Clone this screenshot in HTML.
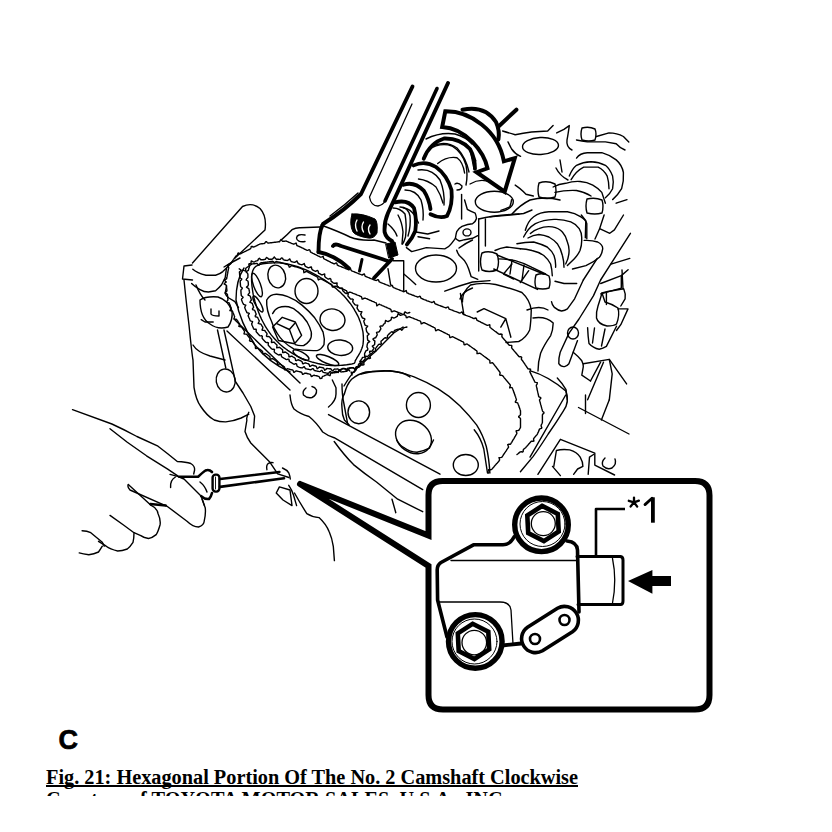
<!DOCTYPE html>
<html><head><meta charset="utf-8">
<style>
html,body{margin:0;padding:0;background:#fff;}
body{width:832px;height:832px;position:relative;overflow:hidden;}
svg{position:absolute;left:0;top:0;}
.cap{position:absolute;left:46px;top:765.5px;font-family:"Liberation Serif",serif;font-weight:bold;font-size:20.3px;line-height:22.8px;white-space:nowrap;color:#000;}
.cap span{text-decoration:underline;text-decoration-skip-ink:none;text-decoration-thickness:1.5px;text-underline-offset:1px;}
.clip{position:absolute;left:0;top:0;width:832px;height:796px;overflow:hidden;}
.c{position:absolute;left:58.5px;top:725px;font-family:"Liberation Sans",sans-serif;font-weight:bold;font-size:27px;color:#000;-webkit-text-stroke:0.7px #000;}
</style></head><body>
<div class="clip">
<div class="cap"><span>Fig. 21: Hexagonal Portion Of The No. 2 Camshaft Clockwise</span><br>Courtesy of TOYOTA MOTOR SALES, U.S.A., INC.</div>
</div>
<div class="c">C</div>
<svg width="832" height="832" viewBox="0 0 832 832" fill="none" stroke="#000" stroke-linejoin="round" stroke-linecap="round">
<g id="eng">
<path d="M412.5 86.5 L361 194 Q345 210 323 224 Q318.5 232 318.5 252" stroke-width="3.9"/>
<path d="M437 88.5 L385 201" stroke-width="3.6"/>
<path d="M448 83 L388 213 Q384 222 384.6 232 Q386 238 392 241 L394 254" stroke-width="3.9"/>
<path d="M318.5 252 Q335 255 349 268.5" stroke-width="3.9"/>
<path d="M333 246 Q335 243 341 246 L382 259 L389 261.5" stroke-width="3.9"/>
<path d="M362 259.5 L359.5 271" stroke-width="3"/>
<path d="M392 259 L374 278" stroke-width="3.9"/>
<path d="M412 104 L369.5 197 Q371 206 378 206 Q383 205 385 201" stroke-width="1.3"/>
<path d="M352 214 Q362 213 375 219 Q378 222 377 233 Q374 239 368 238 Q356 236 353 232 Q349 224 352 214 Z" stroke-width="1" fill="#000"/>
<path d="M357 220 Q354 225 357 231 M363.5 222 Q360.5 227 363.5 232 M370 225 Q367 229 370 234" stroke="#fff" stroke-width="1.4"/>
<path d="M386 244 L395 242 L398 255 L389 258 Z" stroke-width="1" fill="#000"/>
<path d="M321 225 Q340 232 350 237 Q360 241 374 240 L386 243" stroke-width="1.4"/>
<path d="M358 193 Q345 205 330 216" stroke-width="1.4"/>
<path d="M445.3 111.3 C470 111 498 130 503.9 161.3 L514.8 158.1 L504.7 191.7 L476.6 172.2 L487.5 168.3 C484 152 466 128 442.2 126.9 Z" stroke-width="4" fill="#fff" stroke-linejoin="miter"/>
<path d="M462.5 109.7 Q485 105 496 122 Q500 131 498.4 139.4" stroke-width="4"/>
<path d="M498 127 L516.4 109.7" stroke-width="4"/>
<path d="M423.7 158.7 Q430 143 444 138.5 Q460 138 470 149 Q475 158 475 168.8" stroke-width="3.8"/>
<path d="M413.6 165.4 Q425 160 436 167 Q447 175 451.5 190 Q453 205 447 216 Q440 219 430.5 214.2" stroke-width="3.8"/>
<path d="M403.5 184.8 Q414 181 423.7 190.6 Q429 199 430.5 209.1" stroke-width="3.8"/>
<path d="M395 202.4 Q408 199 414 208 Q417 219 415.3 231 Q412 239 406.9 244.5" stroke-width="3.8"/>
<path d="M428 150 Q440 142 452 146 Q462 152 466 165 Q468 175 466 185" stroke-width="1.4"/>
<path d="M432 146 Q446 140 457 148 Q466 158 469 172" stroke-width="1.4"/>
<path d="M418 170 Q432 168 440 180 Q445 192 444 205" stroke-width="1.4"/>
<path d="M405 190 Q416 190 421 200 Q424 210 423 220" stroke-width="1.4"/>
<path d="M400 207 Q408 207 410 216 Q411 226 408 236" stroke-width="1.4"/>
<path d="M471 154 L476 160 L474 169 Z" stroke-width="1" fill="#000"/>
<path d="M437.7 163.5 Q447 156 457 157.7 Q463 162 464.6 173" stroke-width="1.4"/>
<path d="M418.5 179 Q428 180 436 187 Q441 195 443 203" stroke-width="1.4"/>
<path d="M403 207.7 Q411 209 415 216 L418.5 223" stroke-width="1.4"/>
<path d="M426 139 Q440 132 455 134 Q466 137 472 144" stroke-width="1.4"/>
<path d="M398 215 Q402 222 403 232 L402 244" stroke-width="1.4"/>
<path d="M192.5 263 L242.5 206.5 Q252 202 260 208.5 Q267 216 265 230 L235 258" stroke-width="1.4"/>
<path d="M192 265 L184 266 L182.5 279 L192.5 280" stroke-width="1.4"/>
<path d="M192.8 269.2 Q197 273 206 275.2 L215.6 275.2 Q220 274 222.8 271.6 L226.5 268 L232 262" stroke-width="1.4"/>
<path d="M191.6 283.6 Q195 287 200 289.6 Q204 292 208.4 292 L215.6 290.8 Q219 288 221.6 284.8 L225.2 277.6 L226.5 268" stroke-width="1.4"/>
<path d="M226.5 286 L225.2 293.2 Q226 296 228.9 298 L234.9 301.7 L238.5 307.7" stroke-width="1.4"/>
<path d="M201.2 319.7 L205 322 L213.2 322" stroke-width="1.4"/>
<path d="M184 280 Q186 300 189 325 Q192 355 193 360 L194 387.3 Q196 400 200.8 406.5 Q207 416 214.2 420 Q220 422 225.8 421.9 Q234 421 241.2 418 L248.8 414.2" stroke-width="1.4"/>
<path d="M193 345 Q197 352 210 356 L225 360" stroke-width="1.4"/>
<path d="M200 300 Q200 318 210 324 Q218 330 228 327 Q233 320 232 311 Q228 300 218 297 Q206 296 200 300" stroke-width="1.4"/>
<path d="M211 309 L211 314 Q212 316 219 316 L219 311" stroke-width="1.4"/>
<path d="M217.5 330 L225.8 368" stroke-width="1.4"/>
<path d="M224 330 L235.4 381.5 L243 393 L250.8 406.5 L254.6 416 L253.7 427.7" stroke-width="1.4"/>
<path d="M227 331 L290 390" stroke-width="1.4"/>
<path d="M235 320 L300 383" stroke-width="1.4"/>
<path d="M244 268 Q236 280 236 300 Q240 322 255 345 Q268 362 290 372" stroke-width="1.4"/>
<path d="M196 285 Q200 295 205 300" stroke-width="1.4"/>
<path d="M224 267 Q232 262 240 258" stroke-width="1.4"/>
<path d="M281.6 239.6 Q287 235 292 229.7 Q296 227.5 300 227.7 L320 227" stroke-width="1.4"/>
<path d="M305 235 Q297 233.5 296.5 238 Q297 242.5 305 241.5" stroke-width="1.4"/>
<ellipse cx="225.7" cy="380.5" rx="9.5" ry="11.5" transform="rotate(-10 225.7 380.5)" stroke-width="1.4"/>
<path d="M271.8 322 Q266 310 266.7 300 Q270 294 276.8 294.2 Q283 294.5 287.8 296.7 Q296 300 302 305.1 Q309 311 314.7 317.8 Q320 325 323.1 332.1 Q325 339 324 344.7 Q321 350 317.2 350.6 Q305 351 293.7 348.9 Q283 343 277 333 Q273 327 271.8 322 Z" stroke-width="1.4"/>
<path d="M272.6 313.6 Q275 309 278.5 307.7 Q283 306 288.6 306.8 Q294 308 297.9 311.9 Q303 316 307.1 322 Q310 327 311.3 332.1 Q312 337 309.6 340.5 Q307 344 303.7 345.5 Q299 346 295.3 344.7" stroke-width="1.4"/>
<polygon points="282.3,317.3 295.3,322 301.6,335.4 294.5,343.8 278.5,340.5 272.6,327" stroke-width="1.4"/>
<path d="M276.8 323.7 L289.4 329.5 L295.3 322.8 M289.4 329.5 L294.5 343" stroke-width="1.4"/>
<ellipse cx="276.7" cy="276.5" rx="8.7" ry="11.5" transform="rotate(-15 276.7 276.5)" stroke-width="1.4"/>
<ellipse cx="306.5" cy="291" rx="11.5" ry="12.5" transform="rotate(0 306.5 291)" stroke-width="1.4"/>
<ellipse cx="332.5" cy="319.7" rx="12.5" ry="10.7" transform="rotate(10 332.5 319.7)" stroke-width="1.4"/>
<ellipse cx="340.2" cy="347.7" rx="12.5" ry="7.7" transform="rotate(5 340.2 347.7)" stroke-width="1.4"/>
<ellipse cx="257" cy="285" rx="3.5" ry="12.5" transform="rotate(-20 257 285)" stroke-width="1.4"/>
<ellipse cx="258" cy="304" rx="2.5" ry="9" transform="rotate(-30 258 304)" stroke-width="1.4"/>
<ellipse cx="327.6" cy="360" rx="12" ry="3.5" transform="rotate(22 327.6 360)" stroke-width="1.4"/>
<ellipse cx="301" cy="355" rx="9" ry="3" transform="rotate(30 301 355)" stroke-width="1.4"/>
<path d="M226.0 282.0 L225.2 281.0 L224.4 280.0 L225.5 279.4 L226.6 278.8 L226.8 278.0 L226.9 277.2 L227.1 276.4 L227.2 275.6 L227.3 274.8 L227.5 274.0 L227.7 273.2 L227.8 272.4 L227.9 271.6 L228.1 270.8 L228.2 270.0 L228.4 269.2 L228.6 268.4 L228.7 267.6 L228.3 266.7 L227.7 265.1 L228.3 264.5 L229.6 264.5 L230.4 264.0 L230.9 263.3 L231.3 262.7 L231.8 262.0 L232.3 261.3 L232.7 260.7 L233.2 260.0 L233.7 259.3 L234.1 258.7 L234.6 258.0 L235.1 257.3 L235.5 256.7 L236.0 256.0 L236.7 255.6 L237.4 255.1 L237.7 253.9 L238.1 252.9 L239.3 253.5 L240.4 253.8 L241.1 253.5 L241.8 253.1 L242.5 252.7 L243.3 252.4 L244.0 252.0 L244.7 251.6 L245.5 251.3 L246.2 250.9 L246.9 250.5 L247.6 250.2 L248.4 249.8 L249.1 249.5 L249.8 249.1 L250.5 248.7 L251.0 247.7 L251.2 246.5 L252.2 246.5 L253.3 247.0 L254.2 246.9 L254.9 246.5 L255.6 246.2 L256.4 245.8 L257.1 245.5 L257.8 245.1 L258.5 244.7 L259.3 244.4 L260.0 244.0 L260.8 243.9 L261.6 243.8 L262.4 243.7 L263.2 243.6 L264.1 243.5 L264.8 243.2 L265.5 242.0 L266.3 241.6 L267.2 242.5 L268.1 243.1 L268.9 243.0 L269.8 242.9 L270.6 242.8 L271.4 242.7 L272.2 242.6 L273.0 242.5 L273.8 242.4 L274.6 242.3 L275.4 242.2 L276.2 242.1 L277.1 242.0 L277.9 241.9 L278.7 241.8 L279.5 241.8 L280.2 240.7 L280.9 239.6 L281.8 240.5 L282.8 241.4 L283.6 241.3 L284.4 241.2 L285.2 241.1 L286.0 241.0 L286.8 241.3 L287.6 241.6 L288.3 242.0 L289.1 242.3 L289.9 242.6 L290.7 242.9 L291.4 243.3 L292.2 243.6 L293.0 243.9 L293.8 244.2 L294.9 243.7 L296.1 243.0 L296.5 244.3 L296.9 245.5 L297.7 245.8 L298.4 246.2 L299.2 246.5 L300.0 246.8 L300.7 247.2 L301.4 247.5 L302.2 247.9 L302.9 248.2 L303.6 248.6 L304.3 249.0 L305.0 249.3 L305.7 249.7 L306.5 250.0 L307.2 250.4 L308.1 250.2 L309.3 249.7 L310.0 250.2 L310.2 251.5 L310.8 252.2 L311.5 252.6 L312.2 252.9 L312.9 253.3 L313.6 253.6 L314.3 254.0 L315.1 254.4 L315.8 254.7 L316.5 255.1 L317.2 255.4 L317.9 255.8 L318.6 256.1 L319.4 256.5 L320.1 256.9 L320.8 257.2 L321.9 256.8 L323.1 256.3 L323.4 257.3 L323.7 258.6 L324.4 259.0 L325.1 259.4 L325.8 259.7 L326.5 260.1 L327.2 260.5 L328.0 260.8 L328.7 261.2 L329.4 261.5 L330.1 261.9 L330.8 262.3 L331.5 262.6 L332.3 263.0 L333.0 263.3 L333.7 263.7 L334.5 263.8 L335.6 263.2 L336.6 262.9 L337.0 264.1 L337.4 265.2 L338.2 265.5 L338.9 265.8 L339.7 266.1 L340.4 266.4 L341.2 266.7 L341.9 267.0 L342.7 267.3 L343.4 267.6 L344.2 267.9 L344.9 268.2 L345.6 268.5 L346.4 268.8 L347.1 269.1 L347.9 269.4 L348.8 269.2 L349.9 268.5 L350.7 268.9 L351.0 270.1 L351.6 270.8 L352.4 271.1 L353.1 271.4 L353.9 271.7 L354.6 272.0 L355.4 272.3 L356.1 272.6 L356.8 272.9 L357.6 273.2 L358.3 273.5 L359.1 273.8 L359.8 274.1 L360.6 274.4 L361.3 274.7 L362.1 275.0 L363.1 274.5 L364.3 273.9 L364.7 274.9 L365.1 276.1 L365.8 276.5 L366.6 276.8 L367.3 277.1 L368.0 277.4 L368.8 277.7 L369.5 278.0 L370.3 278.3 L371.0 278.6 L371.8 278.9 L372.5 279.2 L373.3 279.5 L374.0 279.8 L374.8 280.1 L375.5 280.4 L376.4 280.5 L377.5 279.8 L378.4 279.7 L378.8 280.9 L379.3 281.9 L380.0 282.2 L380.8 282.5 L381.5 282.8 L382.3 283.1 L383.0 283.4 L383.8 283.7 L384.5 284.0 L385.3 284.3 L386.0 284.6 L386.8 284.9 L387.5 285.2 L388.3 285.5 L389.0 285.8 L389.8 286.1 L390.8 285.8 L391.9 285.2 L392.5 285.8 L392.9 287.0 L393.5 287.6 L394.3 287.9 L395.0 288.2 L395.8 288.5 L396.5 288.8 L397.3 289.1 L398.0 289.4 L398.8 289.7 L399.5 290.0 L400.3 290.3 L401.0 290.6 L401.8 290.9 L402.5 291.2 L403.2 291.5 L404.0 291.7 L405.1 291.1 L406.2 290.5 L406.6 291.8 L407.0 292.9 L407.8 293.2 L408.5 293.5 L409.2 293.8 L410.0 294.1 L410.8 294.4 L411.5 294.7 L412.2 295.0 L413.0 295.2 L413.8 295.5 L414.5 295.8 L415.2 296.1 L416.0 296.4 L416.8 296.7 L417.5 297.0 L418.4 296.9 L419.5 296.3 L420.3 296.4 L420.7 297.6 L421.2 298.4 L422.0 298.7 L422.8 299.0 L423.5 299.3 L424.2 299.6 L425.0 299.9 L425.8 300.2 L426.5 300.5 L427.2 300.8 L428.0 301.1 L428.8 301.3 L429.5 301.6 L430.2 301.9 L431.0 302.2 L431.8 302.5 L432.8 302.1 L433.9 301.4 L434.4 302.2 L434.8 303.4 L435.5 304.0 L436.2 304.2 L437.0 304.5 L437.8 304.8 L438.5 305.1 L439.2 305.4 L440.0 305.7 L440.8 306.0 L441.5 306.3 L442.3 306.5 L443.1 306.8 L443.8 307.1 L444.6 307.4 L445.3 307.7 L446.2 307.8 L447.3 307.1 L448.2 306.9 L448.7 308.1 L449.1 309.1 L449.9 309.4 L450.7 309.7 L451.4 309.9 L452.2 310.2 L453.0 310.5 L453.7 310.8 L454.5 311.1 L455.2 311.4 L456.0 311.6 L456.8 311.9 L457.5 312.2 L458.3 312.5 L459.1 312.8 L459.8 313.0 L460.8 312.6 L462.0 312.0 L462.5 312.7 L462.9 314.0 L463.6 314.5 L464.4 314.7 L465.2 315.0 L465.9 315.3 L466.7 315.6 L467.4 315.9 L468.2 316.2 L469.0 316.4 L469.7 316.7 L470.5 317.0 L471.2 317.4 L472.0 317.7 L472.7 318.1 L473.4 318.5 L474.3 318.5 L475.5 318.0 L476.3 318.1 L476.6 319.4 L477.1 320.3 L477.8 320.7 L478.5 321.0 L479.3 321.4 L480.0 321.7 L480.7 322.1 L481.5 322.5 L482.2 322.8 L482.9 323.2 L483.6 323.6 L484.4 323.9 L485.1 324.3 L485.8 324.7 L486.6 325.0 L487.3 325.4 L488.5 325.1 L489.8 324.8 L489.9 326.0 L489.9 327.3 L490.5 327.8 L491.2 328.3 L491.8 328.8 L492.4 329.2 L493.1 329.7 L493.7 330.2 L494.4 330.7 L495.0 331.2 L495.7 331.7 L496.3 332.1 L496.9 332.6 L497.6 333.1 L498.2 333.6 L498.9 334.1 L499.7 334.3 L500.9 334.0 L502.1 334.4 L501.9 335.6 L501.9 336.7 L502.4 337.3 L502.9 338.0 L503.5 338.6 L504.0 339.2 L504.5 339.8 L505.1 340.4 L505.6 341.0 L506.1 341.6 L506.6 342.2 L507.2 342.9 L507.7 343.5 L508.2 344.1 L508.8 344.7 L509.3 345.3 L510.4 345.4 L511.7 345.4 L511.8 346.4 L511.6 347.7 L512.0 348.4 L512.5 349.0 L513.0 349.6 L513.6 350.2 L514.1 350.9 L514.6 351.5 L515.2 352.1 L515.7 352.7 L516.2 353.3 L516.8 354.0 L517.3 354.6 L517.8 355.2 L518.3 355.8 L518.9 356.5 L519.7 356.8 L521.0 356.8 L521.7 357.3 L521.4 358.6 L521.5 359.6 L522.1 360.2 L522.6 360.8 L523.1 361.5 L523.5 362.1 L524.0 362.8 L524.4 363.5 L524.9 364.2 L525.3 364.8 L525.8 365.5 L526.2 366.2 L526.7 366.9 L527.1 367.5 L527.6 368.2 L528.0 368.9 L529.3 369.0 L530.6 369.1 L530.3 370.4 L529.8 371.6 L530.1 372.4 L530.5 373.1 L530.9 373.9 L531.2 374.6 L531.6 375.4 L532.0 376.1 L532.3 376.9 L532.7 377.6 L533.1 378.3 L533.4 379.1 L533.8 379.8 L534.2 380.6 L534.5 381.3 L534.9 382.1 L536.0 382.4 L537.3 382.7 L537.1 384.1 L536.3 385.1 L536.4 385.9 L536.5 386.7 L536.7 387.4 L536.9 388.2 L537.0 389.0 L537.2 389.8 L537.4 390.6 L537.6 391.4 L537.8 392.1 L537.9 392.9 L538.1 393.7 L538.3 394.5 L538.5 395.3 L538.6 396.1 L539.0 396.8 L540.2 397.4 L540.9 398.0 L540.1 399.1 L539.5 400.0 L539.7 400.8 L539.9 401.6 L540.2 402.5 L540.4 403.3 L540.6 404.1 L540.8 404.9 L541.1 405.8 L541.3 406.6 L541.5 407.4 L541.7 408.2 L542.0 409.1 L542.2 409.9 L542.4 410.7 L542.8 411.5 L543.9 412.4 L543.9 413.2 L542.8 414.1 L542.4 414.9 L542.4 415.8 L542.4 416.6 L542.4 417.4 L542.4 418.3 L542.4 419.1 L542.4 420.0 L542.4 420.8 L542.4 421.7 L542.4 422.5 L542.1 423.2 L541.8 424.0 L541.4 424.7 L541.1 425.4 L541.2 426.3 L541.8 427.5 L541.6 428.3 L540.4 428.6 L539.5 429.1 L539.2 429.9 L538.9 430.6 L538.6 431.4 L538.3 432.1 L537.9 432.8 L537.6 433.6 L537.3 434.3 L536.8 434.9 L536.2 435.5 L535.7 436.1 L535.2 436.7 L534.6 437.3 L534.1 438.0 L533.6 438.6 L533.6 439.7 L533.9 441.0 L532.9 441.2 L531.6 441.1 L530.9 441.6 L530.4 442.2 L529.9 442.8 L529.3 443.4 L528.8 444.0 L528.3 444.7 L527.7 445.3 L527.2 445.9 L526.7 446.5 L526.1 447.1 L525.6 447.7 L524.9 448.2 L524.3 448.7 L523.6 449.3 L523.2 450.1 L523.2 451.4 L522.6 452.0 L521.2 451.7 L520.3 451.9 L519.6 452.4 L519.0 452.9 L518.3 453.5 L517.7 454.0 L517.0 454.5" stroke-width="1.4"/>
<path d="M243.0 270.0 L244.4 270.6 L245.7 271.0 L245.7 269.5 L245.8 268.2 L246.5 267.7 L247.2 267.2 L247.8 266.8 L248.5 266.3 L249.2 265.8 L249.9 265.4 L250.6 264.9 L251.3 264.5 L252.0 264.0 L252.8 263.9 L253.6 263.8 L254.5 263.7 L255.3 263.6 L256.1 263.5 L256.9 263.4 L257.9 264.2 L258.9 265.3 L259.6 264.4 L260.2 263.1 L261.0 262.8 L261.9 262.7 L262.7 262.6 L263.5 262.5 L264.3 262.4 L265.1 262.3 L266.0 262.2 L266.8 262.1 L267.6 262.0 L268.4 261.9 L269.2 261.8 L270.1 261.6 L270.9 261.5 L271.7 261.4 L272.5 261.3 L273.4 261.7 L274.4 262.9 L274.5 262.7 L275.6 261.8 L276.6 261.4 L277.3 261.7 L278.1 261.9 L278.9 262.1 L279.7 262.3 L280.5 262.5 L281.2 262.8 L282.0 263.0 L282.8 263.2 L283.6 263.4 L284.4 263.6 L285.2 263.8 L285.9 264.1 L286.7 264.3 L287.5 264.5 L288.3 264.7 L288.8 265.8 L289.3 267.2 L290.2 266.8 L291.3 265.8 L292.2 265.8 L293.0 266.0 L293.8 266.2 L294.5 266.5 L295.3 266.7 L296.1 266.9 L296.9 267.1 L297.7 267.3 L298.4 267.6 L299.2 267.8 L300.0 268.0 L300.7 268.4 L301.4 268.7 L302.2 269.1 L302.9 269.5 L303.6 269.9 L303.7 271.3 L303.9 272.7 L305.2 272.0 L306.5 271.4 L307.2 271.7 L307.9 272.1 L308.6 272.5 L309.3 272.8 L310.0 273.2 L310.8 273.6 L311.5 274.0 L312.2 274.3 L312.9 274.7 L313.6 275.1 L314.3 275.4 L315.1 275.8 L315.8 276.2 L316.5 276.6 L317.2 276.9 L317.8 277.5 L318.0 279.0 L318.4 279.9 L319.7 279.2 L320.8 278.8 L321.5 279.2 L322.2 279.5 L322.9 279.9 L323.7 280.3 L324.4 280.7 L325.1 281.0 L325.8 281.4 L326.5 281.8 L327.2 282.1 L328.0 282.5 L328.7 282.9 L329.4 283.3 L330.1 283.6 L330.8 284.0 L331.5 284.4 L332.0 285.2 L332.2 286.6 L333.0 287.2 L334.2 286.4 L335.2 286.1 L335.9 286.4 L336.7 286.7 L337.4 287.0 L338.2 287.3 L338.9 287.6 L339.7 287.9 L340.4 288.2 L341.2 288.5 L341.9 288.8 L342.7 289.1 L343.4 289.4 L344.2 289.7 L344.9 290.0 L345.6 290.3 L346.4 290.6 L346.9 291.5 L347.2 292.9 L348.0 293.1 L349.2 292.3 L350.1 292.1 L350.9 292.4 L351.6 292.7 L352.4 293.0 L353.1 293.3 L353.9 293.6 L354.6 293.9 L355.4 294.2 L356.1 294.5 L356.8 294.8 L357.6 295.1 L358.3 295.4 L359.1 295.7 L359.8 296.0 L360.6 296.3 L361.3 296.6 L361.8 297.6 L362.1 299.0 L363.0 299.0 L364.2 298.2 L365.1 298.1 L365.8 298.4 L366.6 298.7 L367.3 299.0 L368.0 299.3 L368.8 299.7 L369.5 300.0 L370.3 300.3 L371.0 300.6 L371.8 301.0 L372.5 301.3 L373.3 301.6 L374.0 301.9 L374.8 302.3 L375.5 302.6 L376.3 302.9 L376.6 304.3 L376.8 305.8 L378.0 305.0 L379.3 304.2 L380.0 304.6 L380.8 304.9 L381.5 305.2 L382.2 305.6 L383.0 305.9 L383.7 306.2 L384.5 306.5 L385.2 306.9 L386.0 307.2 L386.7 307.5 L387.5 307.9 L388.2 308.2 L389.0 308.5 L389.7 308.8 L390.5 309.2 L391.1 309.9 L391.3 311.3 L391.9 311.9 L393.2 311.1 L394.2 310.8 L395.0 311.1 L395.7 311.4 L396.5 311.7 L397.2 312.0 L398.0 312.3 L398.7 312.6 L399.5 312.9 L400.2 313.2 L401.0 313.5 L401.7 313.8 L402.5 314.1 L403.2 314.4 L404.0 314.7 L404.7 315.0 L405.5 315.3 L406.0 316.2 L406.3 317.6 L407.1 317.7 L408.3 316.9 L409.2 316.8 L410.0 317.0 L410.7 317.3 L411.5 317.6 L412.2 317.9 L413.0 318.2 L413.7 318.5 L414.5 318.8 L415.2 319.1 L416.0 319.4 L416.7 319.7 L417.5 320.0 L418.2 320.3 L419.0 320.6 L419.7 320.9 L420.5 321.2 L420.9 322.4 L421.2 323.8 L422.2 323.5 L423.4 322.6 L424.2 322.7 L425.0 323.0 L425.7 323.4 L426.5 323.7 L427.2 324.1 L427.9 324.5 L428.7 324.8 L429.4 325.2 L430.1 325.5 L430.9 325.9 L431.6 326.3 L432.3 326.6 L433.1 327.0 L433.8 327.4 L434.5 327.7 L435.2 328.3 L435.4 329.7 L435.8 330.8 L437.1 330.0 L438.2 329.6 L438.9 329.9 L439.7 330.3 L440.4 330.6 L441.1 331.0 L441.9 331.4 L442.6 331.7 L443.3 332.1 L444.1 332.5 L444.8 332.8 L445.5 333.2 L446.3 333.6 L447.0 333.9 L447.7 334.3 L448.5 334.7 L449.2 335.0 L449.6 336.0 L449.8 337.5 L450.7 337.5 L452.0 336.8 L452.9 336.8 L453.6 337.2 L454.4 337.6 L455.1 338.0 L455.9 338.3 L456.6 338.7 L457.4 339.1 L458.1 339.5 L458.9 339.8 L459.6 340.2 L460.4 340.6 L461.1 341.0 L461.9 341.4 L462.6 341.7 L463.4 342.1 L463.9 343.0 L464.0 344.5 L464.8 344.8 L466.1 344.1 L467.1 344.0 L467.8 344.5 L468.4 344.9 L469.1 345.4 L469.7 345.9 L470.4 346.3 L471.0 346.8 L471.7 347.3 L472.3 347.7 L473.0 348.2 L473.7 348.7 L474.3 349.1 L475.0 349.6 L475.6 350.1 L476.3 350.5 L476.9 351.0 L477.1 352.2 L477.0 353.6 L478.0 353.6 L479.4 353.1 L480.2 353.4 L480.8 353.8 L481.5 354.3 L482.1 354.8 L482.8 355.3 L483.4 355.7 L484.0 356.2 L484.7 356.7 L485.3 357.2 L486.0 357.6 L486.6 358.1 L487.3 358.6 L487.9 359.1 L488.5 359.5 L489.2 360.0 L489.8 360.5 L489.9 361.7 L489.9 363.1 L490.9 363.1 L492.2 362.6 L492.9 363.1 L493.4 363.7 L493.9 364.4 L494.4 365.0 L494.9 365.7 L495.5 366.4 L496.0 367.0 L496.5 367.7 L497.0 368.3 L497.5 369.0 L498.0 369.7 L498.5 370.3 L499.0 371.0 L499.5 371.7 L500.0 372.3 L500.1 373.3 L499.7 374.7 L500.1 375.4 L501.6 375.3 L502.6 375.6 L503.1 376.3 L503.6 376.9 L504.1 377.6 L504.6 378.2 L505.2 378.9 L505.7 379.5 L506.2 380.1 L506.7 380.7 L507.3 381.4 L507.8 382.0 L508.3 382.6 L508.8 383.2 L509.4 383.9 L509.9 384.5 L510.4 385.1 L510.0 386.5 L509.7 387.9 L510.9 387.4 L512.3 387.8 L512.5 388.5 L512.8 389.3 L513.1 390.1 L513.4 390.8 L513.6 391.6 L513.9 392.4 L514.2 393.1 L514.5 393.9 L514.7 394.6 L515.0 395.4 L515.3 396.2 L515.6 396.9 L515.8 397.7 L516.1 398.5 L516.4 399.2 L516.3 400.1 L515.4 401.3 L515.4 402.2 L516.8 402.5 L517.8 403.1 L518.0 403.8 L518.3 404.6 L518.6 405.3 L518.9 406.1 L519.1 406.9 L519.4 407.6 L519.7 408.4 L520.0 409.2 L520.2 409.9 L520.5 410.7 L520.5 411.5 L520.5 412.3 L520.5 413.1 L520.5 413.9 L520.5 414.7 L519.9 415.5 L518.7 416.3 L518.7 417.1 L519.9 417.9 L520.5 418.7 L520.5 419.5 L520.5 420.3 L520.5 421.1 L520.5 421.9 L520.5 422.7 L520.5 423.5 L520.5 424.3 L520.5 425.1 L520.5 425.9 L520.5 426.7 L520.5 427.5 L520.1 428.2 L519.7 428.9 L519.2 429.6 L518.8 430.3 L517.7 430.6 L516.2 430.7 L516.2 431.6 L516.9 433.0 L516.7 433.8 L516.3 434.5 L515.9 435.2 L515.5 435.9 L515.0 436.7 L514.6 437.4 L514.2 438.1 L513.8 438.8 L513.3 439.5 L512.9 440.2 L512.5 440.9 L512.1 441.6 L511.7 442.3 L511.2 443.0 L510.8 443.7 L510.3 444.3 L508.8 444.3 L507.7 444.6 L508.3 446.0 L508.6 447.1 L508.1 447.8 L507.6 448.5 L507.2 449.2 L506.7 449.9 L506.3 450.6 L505.8 451.3 L505.4 451.9 L504.9 452.6 L504.4 453.3 L504.0 454.0 L503.5 454.7 L503.1 455.4 L502.6 456.1 L502.1 456.8 L501.7 457.4 L500.4 457.6 L498.9 457.6 L499.3 458.6 L499.6 460.0 L499.2 460.7 L498.7 461.3 L498.2 462.0 L497.6 462.6 L497.1 463.2 L496.5 463.8 L496.0 464.4 L495.5 465.0 L494.9 465.6 L494.4 466.2 L493.9 466.9 L493.3 467.5 L492.8 468.1 L492.3 468.7 L491.7 469.3 L491.0 469.8 L489.6 469.6 L488.5 469.7 L488.9 471.2 L489.0 472.4 L488.5 473.0" stroke-width="1.4"/>
<path d="M226.0 282.0 L225.0 282.9 L224.1 283.9 L225.3 284.6 L226.4 285.3 L226.5 286.1 L226.5 286.9 L226.6 287.7 L226.7 288.5 L226.8 289.4 L226.9 290.2 L226.9 291.0 L225.9 292.0 L225.1 292.9 L226.4 293.6 L227.4 294.3 L227.5 295.1 L227.5 295.9 L227.6 296.7 L227.7 297.5 L227.8 298.4 L227.9 299.2 L227.9 300.1 L227.1 301.2 L226.7 302.3 L228.0 302.6 L229.2 303.0 L229.5 303.8 L229.8 304.5 L230.1 305.2 L230.4 306.0 L230.7 306.8 L231.0 307.5 L231.3 308.2 L230.6 309.4 L229.9 310.6 L231.2 310.9 L232.5 311.2 L232.8 312.0 L233.1 312.8 L233.4 313.5 L233.7 314.2 L234.0 315.0 L234.3 315.8 L234.6 316.5 L234.3 317.7 L233.8 319.0 L234.9 319.2 L236.3 319.3 L236.9 319.9 L237.3 320.5 L237.8 321.2 L238.2 321.9 L238.7 322.6 L239.1 323.2 L239.6 323.9 L239.3 325.1 L238.8 326.4 L239.8 326.7 L241.2 326.7 L241.8 327.3 L242.3 328.0 L242.7 328.6 L243.2 329.3 L243.6 330.0 L244.1 330.7 L244.5 331.3 L244.4 332.5 L244.0 333.8 L244.9 334.1 L246.2 334.1 L247.0 334.6 L247.5 335.2 L247.9 335.9 L248.4 336.5 L248.9 337.1 L249.4 337.8 L249.9 338.4 L249.9 339.5 L249.5 340.8 L250.2 341.3 L251.5 341.3 L252.4 341.7 L252.9 342.3 L253.4 342.9 L253.8 343.6 L254.3 344.2 L254.8 344.9 L255.3 345.5 L255.4 346.5 L255.4 348.1 L256.0 348.6 L257.3 348.2 L258.3 348.2 L258.9 348.7 L259.6 349.2 L260.2 349.6 L260.9 350.1 L261.6 350.6 L262.2 351.0 L262.7 351.8 L262.7 353.2 L263.1 353.9 L264.4 353.5 L265.5 353.4 L266.1 353.9 L266.8 354.3 L267.5 354.8 L268.1 355.3 L268.8 355.8 L269.4 356.2 L270.0 356.9 L270.0 358.2 L270.2 359.3 L271.6 358.8 L272.7 358.6 L273.4 359.1 L274.0 359.5 L274.7 360.0 L275.3 360.5 L276.0 361.0 L276.7 361.4 L277.3 361.9 L277.3 363.3 L277.4 364.6 L278.7 364.1 L279.9 363.8 L280.6 364.3 L281.2 364.7 L281.9 365.2 L282.6 365.7 L283.2 366.1 L283.9 366.6 L284.5 367.1 L284.6 368.4 L284.6 369.8 L286.2 369.6 L287.3 368.7 L288.1 368.9 L288.9 369.1 L289.7 369.3 L290.4 369.5 L291.2 369.7 L292.0 369.9 L292.8 370.0 L293.4 371.1 L293.9 372.4 L294.9 371.8 L295.9 371.0 L296.8 371.0 L297.5 371.2 L298.3 371.4 L299.1 371.6 L299.9 371.8 L300.7 372.0 L301.5 372.2 L302.1 373.2 L302.6 374.4 L303.5 374.1 L304.6 373.2 L305.4 373.1 L306.2 373.3 L307.0 373.5 L307.8 373.7 L308.6 373.9 L309.4 374.1 L310.2 374.3 L310.8 375.2 L311.3 376.5 L312.2 376.3 L313.2 375.4 L314.1 375.3 L314.9 375.5 L315.7 375.6 L316.5 375.8 L317.3 376.0 L318.0 376.2 L318.8 376.4 L319.5 377.2 L320.0 378.5 L321.8 378.4 L322.1 377.1 L322.7 376.4 L323.4 376.1 L324.2 375.8 L324.9 375.5 L325.7 375.2 L326.4 374.9 L327.2 374.7 L328.0 374.7 L329.2 375.5 L330.1 375.5 L330.4 374.1 L330.9 373.2 L331.6 372.9 L332.4 372.6 L333.1 372.3 L333.9 372.0 L334.6 371.7 L335.4 371.4 L336.1 371.3 L337.3 372.0 L338.3 372.5 L338.7 371.2 L339.1 370.0 L339.8 369.7 L340.6 369.4 L341.3 369.1 L342.1 368.8 L342.8 368.5 L343.6 368.4 L344.4 368.4 L345.3 369.3 L346.2 370.3 L346.9 369.4 L347.6 368.3 L348.4 368.1 L349.2 368.0 L350.0 368.0 L350.8 367.9 L351.6 367.8 L352.4 367.8 L353.2 367.7 L354.1 368.4 L354.9 369.4 L355.7 369.0 L356.4 367.8 L357.2 367.4 L358.0 367.4 L358.8 367.3 L359.4 366.7 L359.9 366.2 L360.5 365.6 L361.1 365.0 L362.0 364.8 L363.3 365.0 L364.0 364.6 L363.8 363.2 L363.9 362.2 L364.5 361.7 L365.1 361.1 L365.6 360.5 L366.2 360.0 L366.8 359.4 L367.4 358.8 L368.1 358.4 L369.6 358.5 L370.5 358.2 L370.1 356.9 L370.0 355.7 L370.5 355.1 L371.0 354.4 L371.5 353.8 L372.0 353.1 L372.5 352.5 L373.0 351.8 L373.8 351.3 L375.2 351.4 L375.9 350.9 L375.5 349.6 L375.5 348.5 L376.0 347.9 L376.5 347.2 L377.0 346.5 L377.5 345.9 L378.0 345.2 L378.5 344.6 L379.3 344.2 L380.7 344.2 L381.4 343.6 L381.0 342.3 L381.0 341.3 L381.6 340.7 L382.2 340.2 L382.8 339.6 L383.4 339.1 L384.0 338.5 L384.6 338.0 L385.6 337.8 L386.9 338.1 L387.6 337.6 L387.4 336.2 L387.7 335.2 L388.3 334.7 L388.9 334.1 L389.5 333.6 L390.1 333.0 L390.7 332.5 L391.3 331.9 L392.2 331.7 L392.9 332.4 L393.7 332.2 L394.2 330.9 L394.9 330.2 L395.7 330.0 L396.5 329.7 L397.3 329.5 L398.1 329.3 L398.9 329.1 L399.7 328.9 L400.7 329.3 L401.7 330.2 L402.5 329.7 L403.0 328.4 L403.7 327.8 L404.5 327.6 L405.3 327.4 L406.1 327.2 L406.9 327.0" stroke-width="1.4"/>
<path d="M352.0 375.0 L351.5 373.6 L351.2 372.3 L352.7 372.4 L354.0 372.4 L354.5 371.8 L355.1 371.1 L355.6 370.5 L356.1 369.9 L356.1 368.9 L355.7 367.5 L356.2 366.8 L357.7 367.0 L358.6 366.6 L359.1 366.0 L359.6 365.4 L360.2 364.7 L360.7 364.1 L360.3 362.7 L359.8 361.3 L361.3 361.4 L362.7 361.5 L363.3 360.9 L363.9 360.3 L364.5 359.7 L365.1 359.1 L365.2 358.1 L364.9 356.6 L365.7 356.2 L367.1 356.5 L368.0 356.2 L368.6 355.6 L369.2 355.0 L369.8 354.4 L370.3 353.7 L369.6 352.3 L369.7 351.2 L371.2 351.2 L372.3 350.9 L372.8 350.2 L373.2 349.4 L373.7 348.7 L374.1 348.0 L372.9 347.0 L372.3 346.1 L373.7 345.3 L374.6 344.5 L374.7 343.7 L374.7 342.8 L374.8 342.0 L374.9 341.1 L373.7 340.1 L372.9 339.1 L374.4 338.0 L375.6 337.8 L376.0 337.1 L376.4 336.4 L376.8 335.7 L377.2 335.0 L377.1 334.0 L376.5 332.7 L377.0 332.1 L378.4 332.0 L379.3 331.6 L379.7 330.9 L380.1 330.2 L380.5 329.5 L380.9 328.8 L380.5 327.7 L379.9 326.3 L380.9 326.0 L382.4 326.0 L383.0 325.4 L383.4 324.7 L383.8 324.0 L384.5 323.6 L385.1 323.1 L385.3 321.6 L385.6 320.5 L386.9 321.1 L388.1 321.6 L388.8 321.2 L389.5 320.8 L390.2 320.4 L390.9 319.9 L391.3 318.9 L391.4 317.5 L392.2 317.3 L393.5 318.0 L394.5 317.9 L395.2 317.5 L395.9 317.1 L396.6 316.7 L397.3 316.3 L397.7 314.9 L398.2 313.6 L399.3 314.5 L400.4 315.4 L401.2 315.1 L402.0 314.9 L402.8 314.6 L403.6 314.4 L404.2 313.7 L404.6 312.2 L405.4 311.9 L406.5 312.9 L407.5 313.2 L408.2 313.0 L409.0 312.7 L409.8 312.5" stroke-width="1.4"/>
<path d="M239.2 268.8 L240.3 269.5 L241.3 270.2 L240.4 271.1 L239.4 272.0 L239.5 272.8 L239.6 273.6 L239.6 274.4 L239.7 275.2 L239.8 276.0 L239.8 276.8 L239.9 277.6 L240.7 278.3 L241.8 279.1 L241.3 279.9 L240.3 280.8 L240.2 281.6 L240.2 282.4 L240.3 283.2 L240.4 284.0 L240.4 284.8 L240.5 285.6 L240.6 286.4 L241.2 287.2 L242.2 287.9 L242.2 288.7 L241.2 289.6 L240.9 290.4 L240.9 291.2 L241.0 292.0 L241.0 292.8 L241.1 293.6 L241.2 294.4 L241.2 295.2 L241.6 296.0 L242.7 296.7 L243.1 297.5 L242.1 298.4 L241.5 299.2 L241.6 300.0 L241.9 300.7 L242.2 301.5 L242.5 302.2 L242.8 303.0 L243.2 303.7 L243.6 304.4 L244.8 304.8 L245.8 305.2 L245.1 306.4 L244.7 307.4 L245.0 308.2 L245.3 308.9 L245.6 309.7 L245.9 310.4 L246.3 311.2 L246.6 311.9 L246.9 312.6 L248.1 313.0 L249.3 313.4 L248.7 314.5 L248.1 315.6 L248.4 316.4 L248.7 317.1 L249.0 317.8 L249.4 318.6 L249.7 319.3 L250.0 320.1 L250.3 320.8 L251.4 321.2 L252.6 321.6 L252.3 322.6 L251.7 323.7 L251.8 324.5 L252.1 325.3 L252.5 326.0 L252.8 326.8 L253.1 327.5 L253.4 328.3 L253.7 329.0 L254.7 329.2 L256.0 329.1 L256.3 329.9 L256.1 331.2 L256.4 332.0 L256.9 332.6 L257.5 333.2 L258.0 333.8 L258.6 334.4 L259.1 335.0 L259.6 335.6 L260.6 335.9 L261.8 335.8 L262.4 336.4 L262.1 337.7 L262.3 338.6 L262.9 339.2 L263.4 339.8 L264.0 340.4 L264.5 341.0 L265.0 341.6 L265.6 342.2 L266.4 342.6 L267.7 342.5 L268.4 342.9 L268.2 344.2 L268.3 345.2 L268.8 345.8 L269.4 346.4 L269.9 347.0 L270.4 347.6 L271.0 348.2 L271.5 348.8 L272.2 349.3 L273.5 349.2 L274.5 349.4 L274.3 350.7 L274.2 351.8 L274.8 352.4 L275.3 353.0 L276.0 353.4 L276.7 353.8 L277.4 354.3 L278.1 354.7 L278.9 355.0 L280.1 354.5 L281.2 354.4 L281.3 355.7 L281.7 356.8 L282.4 357.2 L283.1 357.7 L283.8 358.1 L284.5 358.5 L285.2 358.9 L285.9 359.4 L286.7 359.6 L287.9 359.1 L288.9 359.1 L289.1 360.5 L289.4 361.5 L290.1 361.9 L290.8 362.3 L291.5 362.7 L292.2 363.2 L292.9 363.6 L293.7 364.0 L294.5 364.2 L295.7 363.7 L296.6 363.9 L296.8 365.2 L297.2 366.1 L297.9 366.6 L298.6 367.0 L299.3 367.4 L300.1 367.6 L300.9 367.7 L301.7 367.9 L302.6 367.7 L303.6 366.9 L304.4 366.8 L305.0 368.0 L305.7 368.7 L306.5 368.9 L307.3 369.1 L308.1 369.2 L308.9 369.4 L309.7 369.6 L310.5 369.7 L311.4 369.5 L312.4 368.7 L313.3 368.7 L313.9 369.9 L314.6 370.6 L315.4 370.7 L316.2 370.9 L317.0 371.1 L317.8 371.2 L318.6 371.4 L319.4 371.6 L320.3 371.4 L321.3 370.5 L322.1 370.5 L322.7 371.7 L323.4 372.4 L324.2 372.6 L325.0 372.7 L325.8 372.9 L326.6 373.1 L327.4 373.2 L328.2 373.4 L329.0 372.9 L329.6 371.8 L330.4 371.5 L331.3 372.5 L332.2 373.0 L333.0 372.9 L333.8 372.8 L334.6 372.7 L335.4 372.6 L336.2 372.5 L337.0 372.4 L337.8 372.1 L338.5 371.0 L339.2 370.4 L340.1 371.3 L341.0 372.0 L341.8 371.9 L342.6 371.8 L343.4 371.7 L344.2 371.6 L345.0 371.5 L345.8 371.4 L346.6 371.3 L347.3 370.2 L348.0 369.2 L348.9 370.1 L349.8 371.0" stroke-width="1.4"/>
<path d="M251.2 264.0 L251.0 262.5 L251.3 260.9 L252.7 261.6 L254.0 262.0 L254.9 261.6 L255.7 261.2 L256.7 260.9 L257.7 260.6 L258.4 259.1 L259.4 258.3 L260.8 259.8 L261.9 259.8 L263.1 259.7 L264.2 259.5 L265.3 259.3 L266.4 257.5 L267.6 258.1 L268.8 259.3 L269.9 259.2 L271.0 259.2 L272.1 259.2 L273.2 258.4 L274.3 256.9 L275.3 258.3 L276.3 259.2 L277.3 259.2 L278.3 259.3 L279.3 259.4 L280.3 259.3 L281.5 257.9 L282.5 258.1 L283.3 259.7 L284.3 260.0 L285.3 260.2 L286.3 260.4 L287.3 260.5 L288.5 259.8 L289.8 258.9 L290.5 260.6 L291.3 261.5 L292.3 261.8 L293.3 262.1 L294.3 262.4 L295.5 262.0 L297.0 260.9 L297.6 262.4 L298.3 263.7 L299.3 264.0 L300.3 264.4 L301.3 264.7 L302.5 264.6 L304.2 263.5 L304.7 265.1 L305.4 266.4 L306.4 266.8 L307.4 267.3 L308.4 267.8 L309.9 267.3 L311.4 266.9 L311.7 268.9 L312.5 269.8 L313.5 270.3 L314.5 270.8 L315.6 271.3 L317.4 270.4 L318.2 271.3 L318.5 273.1 L319.5 273.6 L320.5 274.2 L321.5 274.8 L322.8 274.7 L324.7 274.0 L324.7 276.1 L325.3 277.2 L326.3 277.9 L327.2 278.5 L328.2 279.2 L330.1 278.5 L330.9 279.3 L331.1 281.2 L332.0 281.9 L332.9 282.6 L333.9 283.3 L335.4 283.3 L337.1 283.0 L336.9 285.1 L337.5 286.2 L338.4 286.9 L339.3 287.7 L340.2 288.4 L342.1 287.9 L342.8 288.9 L342.7 290.6 L343.5 291.4 L344.2 292.1 L345.0 292.9 L345.9 293.5 L347.8 293.2 L348.2 294.3 L347.9 296.0 L348.6 296.7 L349.3 297.5 L349.9 298.3 L350.6 299.1 L352.4 299.0 L353.3 299.6 L352.7 301.3 L353.1 302.3 L353.7 303.1 L354.3 303.9 L354.8 304.7 L356.0 305.1 L357.8 305.1 L357.4 306.6 L357.0 308.0 L357.5 308.8 L358.0 309.6 L358.5 310.4 L358.9 311.2 L360.2 311.6 L361.9 311.7 L361.3 313.1 L360.7 314.4 L361.1 315.2 L361.5 316.1 L361.9 316.9 L362.2 317.7 L363.1 318.3 L364.7 318.6 L364.8 319.6 L363.8 320.9 L363.9 321.8 L364.2 322.6 L364.5 323.4 L364.7 324.2 L365.0 325.0 L366.2 325.6 L367.7 326.1 L367.0 327.1 L366.0 328.2 L366.3 329.8 L366.6 331.3 L367.4 332.7 L369.1 334.0 L367.3 335.8 L367.4 337.2 L367.5 338.6 L367.7 340.1 L369.7 341.6 L367.8 342.9 L367.3 344.2 L367.1 345.6 L366.9 346.9 L367.8 348.5 L367.7 350.0 L365.8 350.9 L365.3 352.2 L364.6 353.5 L364.6 355.2 L364.9 357.1 L362.6 357.4 L361.9 358.6 L361.2 359.7 L360.5 360.8 L361.2 362.5 L361.0 363.5 L359.5 363.5 L358.7 364.0 L358.5 364.6 L358.4 365.0 L358.3 365.5 L358.2 365.8 L358.0 366.1 L357.7 366.4 L357.3 366.7 L356.6 366.9 L356.0 368.4 L354.9 369.1 L353.2 367.7 L352.3 367.8 L351.5 367.9 L350.5 368.0 L349.6 368.2 L348.6 369.3 L347.7 370.7 L346.4 369.1 L345.3 368.6 L344.1 368.7 L342.9 368.8 L342.1 368.9 L341.3 369.6 L340.5 370.8 L339.7 370.7 L338.8 369.5 L338.0 369.0 L337.2 369.0 L336.3 369.1 L335.5 369.1 L334.7 369.0 L333.8 369.6 L332.9 370.8 L332.1 370.7 L331.3 369.4 L330.6 368.8 L329.4 368.7 L328.2 368.6 L327.0 368.4 L325.6 369.6 L324.7 370.3 L324.1 369.0 L323.5 367.9 L322.7 367.7 L321.8 367.5 L321.0 367.4 L320.2 367.2 L319.4 367.0 L318.3 368.0 L317.2 368.8 L316.7 367.4 L316.1 366.2 L315.3 366.0 L314.4 365.8 L313.6 365.5 L312.8 365.3 L311.9 365.3 L310.6 366.3 L309.7 366.3 L309.3 364.8 L308.7 364.0 L307.9 363.7 L307.0 363.4 L306.2 363.1 L305.4 362.8 L304.4 363.1 L303.1 363.9 L302.5 363.4 L302.2 361.9 L301.5 361.2 L300.8 360.9 L300.0 360.5 L299.3 360.2 L298.6 359.8 L297.6 360.0 L296.3 360.7 L295.5 360.3 L295.4 358.8 L294.9 358.0 L294.2 357.6 L293.5 357.2 L292.8 356.8 L292.1 356.3 L291.2 356.2 L289.8 356.9 L288.9 356.7 L288.9 355.2 L288.6 354.2 L287.9 353.7 L287.2 353.2 L286.5 352.8 L285.9 352.3 L285.1 352.0 L283.7 352.5 L282.6 352.5 L282.7 351.0 L282.6 349.9 L281.9 349.3 L281.3 348.8 L280.7 348.3 L280.1 347.8 L279.4 347.3 L278.0 347.6 L276.7 347.9 L276.9 346.5 L277.0 345.1 L276.5 344.5 L275.9 344.0 L275.3 343.4 L274.7 342.8 L274.2 342.2 L273.0 342.3 L271.5 342.5 L271.4 341.5 L271.8 340.1 L271.5 339.3 L271.0 338.7 L270.4 338.1 L269.9 337.4 L269.4 336.8 L268.5 336.5 L267.0 336.6 L266.4 336.0 L266.9 334.6 L267.0 333.6 L266.5 332.9 L266.0 332.3 L265.5 331.6 L265.1 330.9 L264.4 330.4 L262.9 330.3 L262.0 330.0 L262.6 328.6 L262.9 327.4 L262.5 326.7 L262.0 326.0 L261.6 325.3 L261.2 324.5 L260.6 323.9 L259.1 323.7 L258.2 323.3 L258.9 322.0 L259.3 320.8 L258.9 320.1 L258.5 319.3 L258.1 318.5 L257.8 317.7 L257.0 317.1 L255.4 316.8 L255.2 315.9 L256.1 314.5 L256.0 313.5 L255.6 312.7 L255.3 311.8 L255.0 310.9 L254.3 310.2 L252.6 309.7 L252.5 308.7 L253.6 307.3 L253.3 306.4 L253.0 305.5 L252.7 304.6 L252.4 303.6 L251.5 302.9 L249.9 302.4 L250.4 301.2 L251.4 300.0 L251.1 299.1 L250.9 298.2 L250.6 297.3 L250.4 296.4 L249.5 295.6 L248.0 295.0 L248.4 294.1 L249.5 292.9 L249.5 292.0 L249.3 291.2 L249.2 290.4 L249.0 289.6 L248.9 288.8 L247.9 288.1 L246.5 287.1 L248.1 285.7 L248.4 284.5 L248.3 283.4 L248.2 282.2 L247.9 281.0 L246.1 280.0 L246.7 278.8 L247.9 277.6 L247.9 276.5 L247.9 275.4 L247.9 274.3 L247.5 273.3 L246.1 272.0 L247.0 271.1 L248.4 270.3 L248.6 269.4 L248.8 268.5 L249.1 267.6 L249.5 266.8 L249.4 265.8 L248.8 264.2 L249.4 263.6 L251.2 264.0" stroke-width="1.4"/>
<path d="M254.7 267.4 L255.9 266.3 L257.3 265.5 L258.9 264.8 L260.7 264.2 L262.7 263.8 L264.7 263.5 L266.8 263.2 L269.0 263.1 L271.1 263.0 L273.3 262.9 L275.3 262.9 L277.2 262.9 L279.1 262.9 L281.0 263.0 L282.8 263.2 L284.7 263.5 L286.6 263.8 L288.4 264.2 L290.3 264.6 L292.2 265.1 L294.1 265.6 L295.9 266.1 L297.8 266.7 L299.7 267.4 L301.6 268.1 L303.4 268.8 L305.4 269.6 L307.3 270.5 L309.2 271.3 L311.1 272.3 L313.0 273.3 L314.9 274.3 L316.7 275.3 L318.6 276.4 L320.4 277.5 L322.2 278.6 L324.0 279.7 L325.8 280.9 L327.6 282.2 L329.4 283.5 L331.1 284.8 L332.9 286.1 L334.6 287.4 L336.3 288.8 L337.9 290.2 L339.5 291.6 L341.0 293.0 L342.4 294.4 L343.8 295.8 L345.1 297.3 L346.4 298.7 L347.6 300.2 L348.8 301.7 L350.0 303.2 L351.1 304.7 L352.1 306.2 L353.1 307.7 L354.1 309.2 L355.0 310.8 L355.9 312.3 L356.7 313.8 L357.5 315.3 L358.2 316.8 L358.9 318.3 L359.5 319.9 L360.1 321.4 L360.6 322.9 L361.1 324.4 L361.5 325.9 L361.9 327.4 L362.3 328.9 L362.6 330.3 L362.9 331.7 L363.1 333.1 L363.2 334.5 L363.3 335.8 L363.4 337.2 L363.4 338.5 L363.4 339.8 L363.3 341.1 L363.2 342.4 L363.1 343.6 L362.9 344.9 L362.6 346.1 L362.3 347.3 L361.8 348.6 L361.3 349.8 L360.8 351.1 L360.2 352.3 L359.5 353.5 L358.9 354.7 L358.2 355.8 L357.5 356.9 L356.9 357.9 L356.4 358.8 L355.9 359.6 L355.5 360.3 L355.2 360.9 L355.1 361.4 L354.9 361.9 L354.9 362.2 L354.7 362.6 L354.6 362.9 L354.3 363.1 L353.9 363.4 L353.3 363.6 L352.4 363.8 L351.4 364.1 L350.0 364.3 L348.5 364.5 L346.7 364.8 L344.7 365.0 L342.6 365.2 L340.4 365.4 L338.2 365.5 L335.8 365.6 L333.5 365.6 L331.2 365.6 L328.9 365.4 L326.7 365.2 L324.5 364.9 L322.3 364.5 L320.0 364.0 L317.7 363.5 L315.4 362.9 L313.0 362.3 L310.7 361.6 L308.4 360.9 L306.2 360.1 L303.9 359.2 L301.8 358.3 L299.7 357.3 L297.6 356.3 L295.6 355.2 L293.6 354.1 L291.6 352.9 L289.7 351.7 L287.7 350.4 L285.9 349.0 L284.0 347.7 L282.3 346.2 L280.5 344.7 L278.9 343.2 L277.2 341.6 L275.7 340.0 L274.1 338.3 L272.7 336.6 L271.2 334.9 L269.9 333.1 L268.5 331.2 L267.3 329.3 L266.0 327.3 L264.8 325.4 L263.7 323.3 L262.6 321.2 L261.5 319.1 L260.5 316.9 L259.5 314.5 L258.5 312.1 L257.6 309.6 L256.7 307.0 L255.9 304.4 L255.1 301.9 L254.4 299.3 L253.8 296.8 L253.2 294.4 L252.8 292.0 L252.5 289.8 L252.2 287.7 L251.9 285.5 L251.8 283.3 L251.6 281.2 L251.6 279.1 L251.6 277.1 L251.8 275.1 L252.1 273.3 L252.5 271.6 L253.1 270.0 L253.8 268.6 L254.7 267.4" stroke-width="1.4"/>
<path d="M344.4 393.7 Q347 384 351.6 379.2 Q358 374 366 372 L390 370.8 Q402 372 414.1 376.8 Q427 382 438.2 388.8 Q450 396 459.8 405.7 Q469 415 476.6 424.9 Q483 435 486.3 446.5 Q489 458 489.9 473" stroke-width="1.4"/>
<path d="M344.4 393.7 Q341 400 342 408 Q342 415 344.4 420 L349.2 425" stroke-width="1.4"/>
<path d="M344 386 Q350 376 354.7 370.6 Q365 360 375 352 L393.75 333 L403 327" stroke-width="1.4"/>
<path d="M474.2 429.7 Q481 438 483.8 449 L487.5 473" stroke-width="1.4"/>
<path d="M361 374 Q375 370 390 371 Q404 372 410 377" stroke-width="1.4"/>
<ellipse cx="418.4" cy="405" rx="12" ry="12.5" transform="rotate(0 418.4 405)" stroke-width="1.4"/>
<ellipse cx="358.8" cy="412.3" rx="10.8" ry="11.4" transform="rotate(0 358.8 412.3)" stroke-width="1.4"/>
<ellipse cx="413.5" cy="437" rx="19" ry="15.5" transform="rotate(35 413.5 437)" stroke-width="1.4"/>
<ellipse cx="465.8" cy="465" rx="12.5" ry="10.5" transform="rotate(0 465.8 465)" stroke-width="1.4"/>
<ellipse cx="494.3" cy="201.7" rx="19" ry="10.5" transform="rotate(0 494.3 201.7)" stroke-width="1.4"/>
<ellipse cx="540.5" cy="146" rx="18" ry="8.5" transform="rotate(-3 540.5 146)" stroke-width="1.4"/>
<ellipse cx="436" cy="268.5" rx="20.5" ry="13.5" transform="rotate(0 436 268.5)" stroke-width="1.4"/>
<path d="M482 253 Q489 250 497 254 Q500 262 497 270 Q489 273 482 270 Q479 262 482 253 Z" stroke-width="1.4"/>
<path d="M539 183 Q547 180 555 184 Q557 191 555 197 Q547 200 539 197 Q537 190 539 183 Z" stroke-width="1.4"/>
<path d="M582 128 Q589 126 595 129 Q597 134 595 140 Q589 142 582 140 Q580 134 582 128 Z" stroke-width="1.4"/>
<path d="M536 275 Q543 272 549 276 Q551 282 549 288 Q543 290 536 288 Q534 282 536 275 Z" stroke-width="1.4"/>
<path d="M587 199 Q595 197 602 200 Q604 206 602 213 Q595 215 587 213 Q585 206 587 199 Z" stroke-width="1.4"/>
<path d="M478.7 219 L478.7 271" stroke-width="1.4"/>
<path d="M485.4 219 L485.4 246" stroke-width="1.4"/>
<path d="M478.7 219 Q495 215 519 214" stroke-width="1.4"/>
<path d="M525.3 230.3 Q528 221 533.7 216.8 Q540 212 548.9 211.8 L567.4 211.8 Q575 213 580.9 216.8 Q586 220 586.8 223.6 L586.8 238.7" stroke-width="1.4"/>
<path d="M523.6 237 Q528 228 535.4 223.6 Q543 220 554 219.4 Q563 219 570.8 221.9 Q576 224 579.2 228.6 Q582 233 581.7 238.7 Q582 245 580 250.5 Q578 255 574.1 258.9 L567.4 265.6" stroke-width="1.4"/>
<path d="M530.4 233.6 Q534 230 538.8 228.6 Q545 226 552.3 226.9 Q559 228 562.4 232 Q566 236 567.4 242 Q569 246 569.1 250.5 Q569 258 565.7 264" stroke-width="1.4"/>
<path d="M528 238 Q533 235 538.8 234.5 Q544 235 548.9 237 Q554 240 557.3 243.7 Q561 249 562.4 255.5 Q564 261 564 267.3" stroke-width="1.4"/>
<path d="M516.9 243.7 Q525 242 533.7 242 Q541 244 547.2 247 Q552 251 554 255.5 Q556 261 555.6 267.3" stroke-width="1.4"/>
<path d="M520.3 248.8 Q526 249 532 250.5 Q539 252 543.8 255.5 Q548 259 550.6 264 Q552 269 552.3 275.7" stroke-width="1.4"/>
<path d="M495 250.5 Q500 248 506.8 247 L520.3 248.8" stroke-width="1.4"/>
<path d="M498.4 258.9 Q506 259 515.2 260.6 Q524 263 532 267.3 L545.5 274" stroke-width="1.4"/>
<path d="M503.5 274 L511.9 264 M503.5 274 L513.6 279 M520.3 282.5 L528.7 270.7" stroke-width="1.4"/>
<path d="M584.2 240.4 Q592 240 597.7 242 Q603 245 602.7 248.8 Q602 254 599.4 257.2 Q594 262 585.9 265.6 L572.5 269" stroke-width="1.4"/>
<path d="M630.4 233.3 L600.6 280" stroke-width="1.4"/>
<path d="M597.3 258.4 L583.3 280" stroke-width="1.4"/>
<path d="M604.1 215 L599.6 228.7 L595 239" stroke-width="1.4"/>
<path d="M581.3 215 L585.8 220.7 L585.3 237.8" stroke-width="1.4"/>
<path d="M599.6 228.7 L609.8 233.3 L614.4 229.9 L623.5 215" stroke-width="1.4"/>
<path d="M600.7 283.5 L621.3 275.6 L628.1 269.8" stroke-width="1.4"/>
<path d="M611 264.1 L629.8 258.4" stroke-width="1.4"/>
<path d="M555 281.3 L564.1 283.5 L576.7 283.5" stroke-width="1.4"/>
<path d="M600.7 293.8 L621.3 288.1 L621.3 275.6" stroke-width="1.4"/>
<path d="M490 216.8 Q500 216 510.2 215.1 Q518 214 523.6 213.5 L532 210" stroke-width="1.4"/>
<path d="M576.5 158.1 Q580 153 587.3 152.7 L601.8 152.7 Q610 155 616.2 159.9 Q622 165 623.4 172.5 Q624 181 621.6 188.7 Q618 195 612.6 199.6" stroke-width="1.4"/>
<path d="M569.3 176.1 Q572 169 576.5 165.3 Q583 162 591 161.7 Q599 162 605.4 165.3 Q610 169 612.6 176.1 Q614 182 612.6 188.7 Q610 194 605.4 197.8" stroke-width="1.4"/>
<path d="M571.1 179.7 Q576 171 583.7 167.1 L598.2 167.1 Q604 170 607.2 176.1 Q609 182 609 188.7" stroke-width="1.4"/>
<path d="M553.1 187 Q559 184 565.7 183.3 Q573 181 580.1 181.5 Q587 182 592.8 185.1 Q598 188 601.8 192.4 L605.4 203.2" stroke-width="1.4"/>
<path d="M555 192.4 Q565 190 576.5 190.5 Q585 192 591 196" stroke-width="1.4"/>
<path d="M502.6 131 Q509 133 515.2 134.7 Q523 133 531.5 132 L547.7 131 L553.1 125.6" stroke-width="1.4"/>
<path d="M556.7 132.9 L563.9 129.3 L569.3 125.6 M569.3 125.6 Q568 135 567 140 Q566 147 572 150" stroke-width="1.4"/>
<path d="M596.4 136.5 L609 132.9 Q617 133 623.4 136.5 L628.8 141.9" stroke-width="1.4"/>
<path d="M576.5 140 Q582 141 587.3 141.9 L605.4 141.9 L616.2 143.7 Q620 148 625 150" stroke-width="1.4"/>
<path d="M508 141.9 Q510 146 511.6 149 Q515 154 520.6 156.3" stroke-width="1.4"/>
<path d="M515.2 185.1 Q520 188 526 194.2 L533.3 196" stroke-width="1.4"/>
<path d="M511.6 199.6 Q511 204 509.8 206.8 Q505 209 500.8 210.4" stroke-width="1.4"/>
<path d="M616.2 203.2 L627 199.6" stroke-width="1.4"/>
<path d="M560 160 L562 172 M556 168 Q560 176 568 180" stroke-width="1.4"/>
<path d="M551.5 301.6 Q552 305 554.4 307.4 Q558 310.5 561.6 311 Q565 310.5 567.4 308.9 L574.6 298.8 L583.3 280" stroke-width="1.4"/>
<path d="M600.6 280 L593.4 295.9 L579 319 L568.9 333.4" stroke-width="1.4"/>
<path d="M568.9 333.4 L560.2 352.2 Q558.5 358 558.8 363.7 Q561 367 564.5 366.6 Q567 366 568.9 363.7 L577.5 340.6" stroke-width="1.4"/>
<path d="M602 293 Q600 300 598 306 Q596 312 596.5 318 Q598 324 607 326 Q614 326 616.5 324 Q620 315 618 308 Q612 304 605 302 Z" stroke-width="1.4"/>
<path d="M587.6 327.6 Q588 337 589 343.5 Q593 348 599.2 349.3 Q603 348.5 606.4 346.4 L616.5 326.2" stroke-width="1.4"/>
<path d="M594.5 328 L592.5 343 M605 329 L601.5 346" stroke-width="1.4"/>
<path d="M602 293 L607.8 291.5 L623.7 288.7 Q626 294 625.1 298.8 L620.8 306" stroke-width="1.4"/>
<path d="M606.4 293 L606.4 304.5" stroke-width="1.4"/>
<path d="M622 270 L623 288.7" stroke-width="1.4"/>
<path d="M617.9 308.9 L628 308.9 L620.8 324.7 L616.5 330.5" stroke-width="1.4"/>
<path d="M573.2 352.2 Q578 356 581.8 360.8 Q583.5 364 583.3 366.6 L581.8 375.2 L590.5 381" stroke-width="1.4"/>
<path d="M583.3 363.7 L609.3 359.4 L626.6 383.9" stroke-width="1.4"/>
<path d="M609.3 359.4 L612.2 373.8 L609.3 399.8" stroke-width="1.4"/>
<path d="M603.5 362.2 L587.6 399.8 M600.6 362.2 L590.5 381" stroke-width="1.4"/>
<path d="M557.3 378 Q563 384 566 389.7 L567.4 400" stroke-width="1.4"/>
<path d="M578.5 407.5 L629 434" stroke-width="1.4"/>
<path d="M609.3 399.8 L601.4 420.1" stroke-width="1.4"/>
<path d="M530.5 370.9 Q548 376 565.8 391 Q570 402 563.3 411.2 Q556 423 548.2 434 Q540 447 533 456.6 L520.4 471.8" stroke-width="1.4"/>
<path d="M533 318 Q546 316 553.2 323 Q553 330 550.7 335.6 Q544 345 540.6 353.2 Q538 362 538 371" stroke-width="1.4"/>
<path d="M537.9 474.3 L560.4 439.3 L594.8 453.2 L594.8 465.1 L614.6 475" stroke-width="1.4"/>
<path d="M553.8 466.4 L556.4 450.5 Q562 449 569.7 449.9 Q577 452 580.2 457.1 Q583 462 582.9 466.4 L577.6 469 L573.6 474.3" stroke-width="1.4"/>
<path d="M588.2 474.3 L589.5 457.1 L593.5 454.5" stroke-width="1.4"/>
<path d="M605 458 Q601 462 603 466 Q607 470 612 468 Q617 464 615 459" stroke-width="1.4"/>
<path d="M552.5 466.4 L560.4 475.6" stroke-width="1.4"/>
<path d="M585.5 395 L585.5 413.5" stroke-width="1.4"/>
<path d="M565.7 395 L530 457.1" stroke-width="1.4"/>
<path d="M462.5 301.9 Q462 292 470.5 285 Q481 282 495.7 284.5 Q510 288 521.9 292.5 Q530 300 531.25 310 Q531 322 529.7 330 Q526 338 518.75 341.5 L506 342.5" stroke-width="1.4"/>
<path d="M460.4 293.5 L463.7 313.7" stroke-width="1.4"/>
<path d="M477.2 312 L484 308.6 L505.8 318.7 L510.9 337.2 M500.8 327.1 L505.8 318.7" stroke-width="1.4"/>
<path d="M497 255 L543.75 274" stroke-width="1.4"/>
<path d="M493.75 269 L537.5 289.4" stroke-width="1.4"/>
<path d="M512 260 L510 274 M524 265 L522 280" stroke-width="1.4"/>
<path d="M527 310 Q540 305 548 310" stroke-width="1.4"/>
<path d="M455 184 Q458 182 462 186 Q462 190 457 190" stroke-width="1.4"/>
<path d="M461.6 194.4 L461.6 219" stroke-width="1.4"/>
<path d="M406.4 247.6 L411.7 251.6 Q418 250 426.3 247.6 L444.8 248.9 Q449 247 451.4 243.6 L455.4 238.3 Q456 234 456.7 231.7 Q459 228 462 226.4 Q468 224 472.5 223.8 Q476 221 476.5 218.5 Q476 215 475.2 213.2 Q470 211 467.3 209.3 L464.6 200" stroke-width="1.4"/>
<path d="M455.4 238.3 Q457 240 459.3 241 Q462 240.5 464.6 239.7 L472.5 238.3 L477.8 235.7" stroke-width="1.4"/>
<path d="M456.7 250.2 Q457.5 253 459.3 255.5 Q462 258 464.6 260.8 Q467 264 468.6 268.8 Q470 273 471.2 276.7 L477.8 279.3" stroke-width="1.4"/>
<path d="M459 248 Q466 243 472.5 240" stroke-width="1.4"/>
<path d="M393 260.8 L403.7 260.8 L403.7 290.6" stroke-width="1.4"/>
<path d="M416 232 L427.7 234 L439 231" stroke-width="1.4"/>
<path d="M418 236.7 L429.6 238.7" stroke-width="1.4"/>
<path d="M388 268.8 L390.6 284.6" stroke-width="1.4"/>
<path d="M403.8 274 Q410 279 415.7 284.6" stroke-width="1.4"/>
<path d="M444.8 291.2 L459.3 286 L472.5 282 L490 280.6" stroke-width="1.4"/>
<path d="M460 299 Q462 292 472.5 288" stroke-width="1.4"/>
<path d="M393 208 Q400 208 405 214 Q407 225 405.5 237 Q404 242 402.5 244" stroke-width="1.4"/>
<path d="M388 224 Q395 230 397 236" stroke-width="1.4"/>
<path d="M512 214 Q520 205 530 200 Q545 196 560 200" stroke-width="1.4"/>
<path d="M470 184 Q480 178 490 182" stroke-width="1.4"/>
<ellipse cx="467" cy="232.4" rx="4" ry="3.5" transform="rotate(0 467 232.4)" stroke-width="1.4"/>
<ellipse cx="573" cy="333" rx="5.5" ry="6" transform="rotate(0 573 333)" stroke-width="1.4"/>
<path d="M72.5 409.6 L111.9 424 Q125 430 136.9 436.5 L158 446.2 Q163 450 167.7 453.8 L177.3 461.5 Q186 462 190.8 463.5 Q195 466 194.6 470 L193.7 474" stroke-width="1.4"/>
<path d="M110 428.8 L127.3 442.3 L146.5 455.8 L167.7 469.2 L179.2 476.9" stroke-width="1.4"/>
<path d="M170.6 487.5 Q170 480 175.4 477" stroke-width="1.4"/>
<path d="M128.3 484.6 L150.4 504.8" stroke-width="1.4"/>
<path d="M128.3 484.6 Q127 487 130 490 L167.7 506.7 L187 521.2 Q193 527 198.5 527 Q204 525 204.2 521.2 Q206 513 205.2 507.7 L202 499" stroke-width="1.4"/>
<path d="M150.4 504.8 Q157 508 158 513.5 Q161 520 160 525 Q158 532 156.2 534.6 Q152 538 148.5 538.5 Q144 538 140.8 535.6 L134 532.7" stroke-width="1.4"/>
<path d="M110 515.4 L123.5 525 L134 532.7 Q134 538 133 542.3 Q130 547 127.3 549 Q122 551 117.7 551 Q110 549 106.2 546.2 L98.5 541.3" stroke-width="1.4"/>
<path d="M82.1 530.8 Q87 531 90.8 532.7 L102.3 542.3 Q104 545 104.2 546.2" stroke-width="1.4"/>
<path d="M102.3 546.2 Q100 550 98.5 552 Q94 554 88.8 554.8 Q83 554 79.2 552.9" stroke-width="1.4"/>
<path d="M170 474.4 Q178 476 184 479 L201.25 496.25 L204.4 505.6" stroke-width="1.4"/>
<path d="M200 482 Q205 486 207 492" stroke-width="1.4"/>
<path d="M150.4 504 L165.8 505.5" stroke-width="2.5"/>
<path d="M179.4 476.7 L198.1 476.7 Q203 472 205.5 470.5 Q209 469 212 472" stroke-width="2.6"/>
<path d="M201.25 496.25 Q205 499.5 209 499 Q211 497 212 493" stroke-width="2.6"/>
<rect x="212.6" y="474.6" width="6.8" height="17" rx="3" stroke-width="2.4"/>
<path d="M215.5 477 L215.5 489" stroke-width="0.9"/>
<path d="M220 479 L279.4 472" stroke-width="2.6"/>
<path d="M220 486.9 L284 478.3" stroke-width="2.6"/>
<path d="M248.8 412.3 Q246 418 246.9 420 L245 431.5 Q247 438 250.8 443 L262.3 454.6 L270 462.3 L277.7 473.8 L288.9 477.5" stroke-width="1.4"/>
<path d="M266.9 469.7 Q266 465 268.4 463.4 Q271 462 273 462.7" stroke-width="1.4"/>
<path d="M282.5 468 Q287 470 288.75 472.8 Q290 476 290.3 479" stroke-width="1.4"/>
<path d="M276.25 493 L279.4 486.9 L290 490 L292 505.6 L283 500 Z" stroke-width="1.4"/>
<path d="M288.75 485.3 Q292 490 293.4 494.7 L296.6 505.6" stroke-width="1.4"/>
<path d="M294.5 493 Q300 503 306.8 513.6 Q312 517 319 517.6 Q326 524 329.3 532 Q332 538 333.3 546.3 L334.4 560.6" stroke-width="1.4"/>
<path d="M396.7 440 Q400 446 404.9 448.2 Q410 452 417 452.3 Q424 451 429.4 448.2 L433.5 440" stroke-width="1.4"/>
<path d="M328.5 414.6 L440 474.2" stroke-width="1.4"/>
<path d="M290 395 Q291 405 294 409 Q300 414 309 416.5 Q316 422 322.7 432 Q328 436 334.2 437.7 L422.7 489.6" stroke-width="1.4"/>
<path d="M334.2 441.5 Q344 455 353.5 464.6 Q365 474 376.5 482 L397.7 499.2 L422.7 511.7" stroke-width="1.4"/>
<path d="M328.5 407 Q336 401 336 394 L336 387.7 L332.3 380" stroke-width="1.4"/>
<path d="M342 384 Q342 395 343.8 403 L347.7 424.2" stroke-width="1.4"/>
<path d="M392 499.2 L395.8 512.7" stroke-width="1.4"/>
<path d="M306 388 Q302 391 303.5 395 Q307 398.5 312 397.5 Q317 395 316.5 390 Q315 387 312 386.5" stroke-width="1.4"/>
</g>
<!-- inset box -->
<path d="M300 484 L428.5 535.5 V495 Q428.5 481 442.5 481 H695 Q709.5 481 709.5 495.5 V695 Q709.5 709.5 695 709.5 H443 Q428.5 709.5 428.5 695 V566 L300 484" stroke-width="6" stroke-linejoin="miter" fill="#fff"/>
<!-- tensioner -->
<g id="tens">
<path d="M514 537 Q510 544.8 503 544.8 H473.5 L441 562.5 Q437.2 565 437.2 570 L437.6 600 L447 637" stroke-width="3.6"/>
<path d="M567 541 Q577 542 577.5 550 L579 612" stroke-width="3.6"/>
<circle cx="541.5" cy="524.8" r="26.8" stroke-width="5.4"/>
<circle cx="542.5" cy="524" r="22.5" stroke-width="1"/>
<polygon points="542.1,505.9 557.8,513.9 558.7,531.5 543.9,541.1 528.2,533.1 527.3,515.5" stroke-width="4.6" stroke-linejoin="miter"/>
<circle cx="543.3" cy="523.6" r="12" stroke-width="1.3"/>
<circle cx="475.3" cy="641.4" r="26.8" stroke-width="5.4"/>
<circle cx="474.5" cy="641.5" r="22.5" stroke-width="1"/>
<polygon points="472.6,623.8 488.3,631.8 489.2,649.4 474.4,659.0 458.7,651.0 457.8,633.4" stroke-width="4.6" stroke-linejoin="miter"/>
<circle cx="474.3" cy="642.6" r="12.3" stroke-width="1.3"/>
<path d="M451 560.5 H578" stroke-width="1.3"/>
<path d="M439 602 H500 Q510 602 511 610 L513 644" stroke-width="1.3"/>
<path d="M502 645.5 L521 643.5" stroke-width="3.8"/>
<path d="M527.5 627.2 L557.5 608.2 A14 14 0 0 1 572.5 631.8 L542.5 650.8 A14 14 0 0 1 527.5 627.2 Z" stroke-width="3.6"/>
<circle cx="535" cy="639" r="5" stroke-width="2.6"/>
<circle cx="564.5" cy="620" r="5" stroke-width="2.6"/>
<path d="M577 556.5 H620.5 Q623 557 623 560 V601 Q623 604.5 620.5 604.5 H578" stroke-width="3"/>
<path d="M612.5 558.5 Q617 580 612.5 603" stroke-width="1.3"/>
<path d="M596 555 V509 H625" stroke-width="2.6" stroke-linecap="butt"/>
<polygon points="628,581 652.4,570 652.4,576 671,576 671,586 652.4,586 652.4,593.7" fill="#000" stroke="none"/>
<path d="M634 497.6 V502.3 M628.8 500.8 L634 502.3 L638.9 500.6 M630.6 506.5 L634 502.3 L637.2 506.6" stroke-width="2.3"/>
<path d="M652.9 497.3 V522.7" stroke-width="3.8" stroke-linecap="butt"/>
<path d="M652 498.3 L645 504.6" stroke-width="2.8"/>
</g>
</svg>
</body></html>
